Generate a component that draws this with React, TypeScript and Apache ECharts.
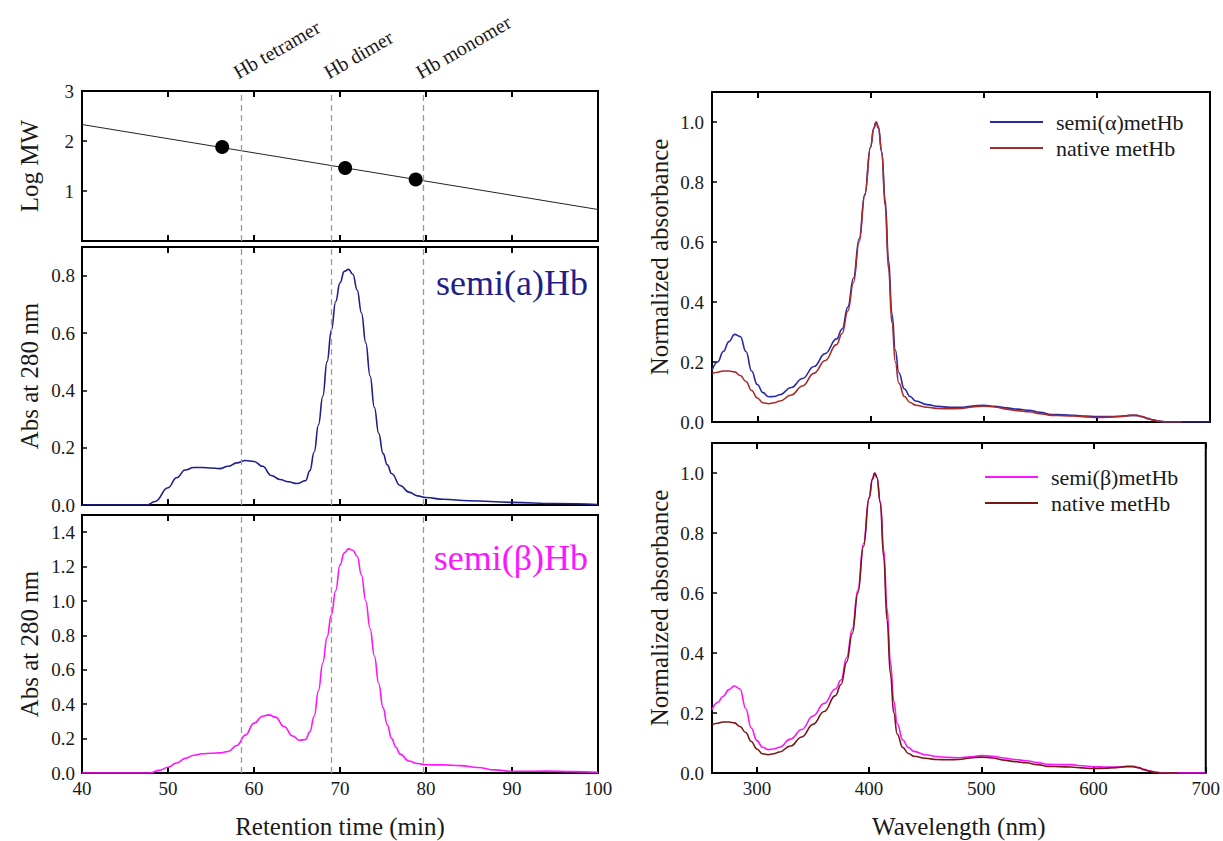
import React, { useEffect, useRef } from "react";
import * as echarts from "echarts";

const SERIF = "'Liberation Serif', 'Times New Roman', Times, serif";
const INK = "#1a1a1a";

// ---- Column calibration: log MW vs retention time ----
const standardTimes = [56.3, 70.6, 78.8];
const standardLogMW = [1.88, 1.46, 1.23];
const fitTimes = [40, 100];
const fitLogMW = [2.33, 0.63];
const speciesNames = ["Hb tetramer", "Hb dimer", "Hb monomer"];
const speciesTimes = [58.5, 69.0, 79.7];

// ---- Size-exclusion chromatograms (Abs at 280 nm) ----
const alphaTimes = [
  40, 45, 47.5, 48.5, 50, 51, 52, 53, 54, 55, 56, 57, 58, 59, 60, 61, 62, 63, 64, 65, 66,
  66.5, 67, 67.5, 68, 68.5, 69, 69.5, 70, 70.5, 71, 71.5, 72, 72.5, 73, 73.5, 74, 74.5, 75,
  75.5, 76, 77, 78, 79, 80, 82, 85, 90, 95, 100,
];
const alphaAbs = [
  0, 0, 0, 0.012, 0.06, 0.095, 0.122, 0.131, 0.131, 0.129, 0.127, 0.135, 0.147, 0.155, 0.152,
  0.135, 0.103, 0.089, 0.081, 0.075, 0.085, 0.12, 0.185, 0.28, 0.38, 0.5, 0.61, 0.71, 0.775,
  0.815, 0.822, 0.805, 0.75, 0.67, 0.565, 0.45, 0.34, 0.25, 0.18, 0.14, 0.11, 0.068, 0.045,
  0.032, 0.026, 0.02, 0.015, 0.009, 0.005, 0.002,
];
const betaTimes = [
  40, 45, 47.8, 49, 50, 51, 52, 53, 54, 55, 56, 57, 58, 59, 60, 61, 61.7, 62.5, 63.5, 64.5,
  65.3, 66, 66.5, 67, 67.5, 68, 68.5, 69, 69.5, 70, 70.5, 71, 71.5, 72, 72.5, 73, 73.5, 74,
  74.5, 75, 75.5, 76, 76.5, 77, 78, 79, 80, 82, 84, 86, 88, 90, 94, 97, 100,
];
const betaAbs = [
  0, 0, 0, 0.015, 0.033, 0.058, 0.085, 0.103, 0.112, 0.115, 0.117, 0.125, 0.16, 0.22, 0.29,
  0.33, 0.338, 0.325, 0.27, 0.215, 0.19, 0.195, 0.24, 0.33, 0.48, 0.64, 0.79, 0.92, 1.06,
  1.21, 1.28, 1.303, 1.295, 1.26, 1.15, 1.0, 0.84, 0.68, 0.52, 0.38, 0.28, 0.2, 0.15, 0.11,
  0.07, 0.055, 0.048, 0.047, 0.043, 0.032, 0.018, 0.01, 0.011, 0.008, 0.004,
];

// ---- UV-vis spectra (normalized absorbance) ----
const wavelengths = [
  260, 265, 270, 275, 280, 285, 290, 295, 300, 305, 310, 315, 320, 330, 340, 350, 360, 370,
  375, 380, 385, 390, 395, 400, 403, 405, 407, 410, 413, 416, 419, 422, 425, 430, 435, 440,
  450, 460, 470, 480, 490, 500, 510, 520, 530, 540, 550, 560, 570, 580, 590, 600, 610, 620,
  630, 635, 640, 645, 650, 655, 660, 665, 670, 675, 690, 700,
];
const semiAlphaMet = [
  0.172, 0.2, 0.235, 0.268, 0.292, 0.285, 0.235, 0.17, 0.125, 0.098, 0.084, 0.085, 0.091,
  0.115, 0.145, 0.185, 0.228, 0.277, 0.31, 0.383, 0.48, 0.61, 0.76, 0.915, 0.98, 1.0, 0.98,
  0.9, 0.74, 0.54, 0.36, 0.24, 0.165, 0.11, 0.085, 0.07, 0.058, 0.052, 0.049, 0.049, 0.053,
  0.056, 0.052, 0.047, 0.043, 0.039, 0.032, 0.025, 0.024, 0.022, 0.02, 0.018, 0.018, 0.019,
  0.022, 0.022, 0.018, 0.012, 0.007, 0.003, 0.001, 0, 0, 0, 0, 0,
];
const nativeMet = [
  0.161, 0.166, 0.17, 0.17, 0.167, 0.155, 0.135, 0.105, 0.08, 0.064, 0.061, 0.064, 0.07,
  0.09, 0.12, 0.162, 0.205, 0.258, 0.295, 0.37, 0.465, 0.6, 0.755, 0.915, 0.98, 1.0, 0.985,
  0.9, 0.72, 0.51, 0.33, 0.2, 0.13, 0.085, 0.065, 0.056, 0.049, 0.045, 0.044, 0.045, 0.05,
  0.053, 0.05, 0.043, 0.038, 0.034, 0.028, 0.022, 0.021, 0.02, 0.017, 0.015, 0.016, 0.018,
  0.022, 0.022, 0.018, 0.011, 0.006, 0.002, 0, 0, 0, 0, null, null,
];
const semiBetaMet = [
  0.211, 0.235, 0.256, 0.278, 0.29, 0.28, 0.215, 0.15, 0.108, 0.086, 0.078, 0.08, 0.086,
  0.113, 0.145, 0.19, 0.232, 0.28, 0.31, 0.385, 0.48, 0.61, 0.765, 0.92, 0.98, 1.0, 0.985,
  0.905, 0.745, 0.55, 0.37, 0.24, 0.165, 0.11, 0.085, 0.072, 0.061, 0.055, 0.052, 0.051,
  0.054, 0.058, 0.056, 0.05, 0.045, 0.041, 0.035, 0.029, 0.028, 0.028, 0.024, 0.021, 0.02,
  0.02, 0.021, 0.021, 0.018, 0.012, 0.007, 0.003, 0.001, 0, 0, 0, 0, 0,
];

const COLORS = {
  alphaHb: "#1f1f8c",
  alphaMet: "#2a2aa8",
  betaHb: "#ff14ff",
  nativeTop: "#a82a2a",
  nativeBottom: "#7a1717",
  dash: "#9a9a9a",
};

const zip = (xs: number[], ys: (number | null)[]) => xs.map((x, i) => [x, ys[i]]);

// panel rectangles in page pixels
const GRIDS = [
  { left: 82, top: 91, width: 516, height: 150 },
  { left: 82, top: 247, width: 516, height: 258 },
  { left: 82, top: 515, width: 516, height: 258 },
  { left: 712, top: 92, width: 498, height: 330 },
  { left: 712, top: 443, width: 498, height: 330 },
];

const tickLabel = { fontFamily: SERIF, fontSize: 19, color: INK };
const titleText = { fontFamily: SERIF, fontSize: 25, color: INK };

const stepFormatter = (step: number) => (v: number) =>
  Math.abs(v / step - Math.round(v / step)) < 1e-6 ? v.toFixed(1) : "";

function xAxisPair(gridIndex: number, min: number, max: number, showLabels: boolean, name: string) {
  const wide = max - min > 100;
  const step = wide ? 100 : 10;
  const common: any = {
    type: "value",
    gridIndex,
    min,
    max,
    axisLine: { show: false },
    splitLine: { show: false },
    axisTick: { show: true, inside: true, length: 6, lineStyle: { color: "#000", width: 2 } },
  };
  if (wide) {
    common.minInterval = step;
    common.maxInterval = step;
  } else {
    common.interval = step;
  }
  return [
    {
      ...common,
      position: "bottom",
      name: showLabels ? name : "",
      nameLocation: "middle",
      nameGap: 41,
      nameTextStyle: titleText,
      axisLabel: {
        show: showLabels,
        margin: 6,
        ...tickLabel,
        formatter: (v: number) => (v % step === 0 ? String(v) : ""),
      },
    },
    { ...common, position: "top", axisLabel: { show: false } },
  ];
}

function yAxis(gridIndex: number, max: number, interval: number, name: string, margin: number, fmt: any) {
  return {
    type: "value",
    gridIndex,
    min: 0,
    max,
    interval,
    name,
    nameLocation: "middle",
    nameGap: 40,
    nameTextStyle: titleText,
    axisLine: { show: false },
    splitLine: { show: false },
    axisTick: { show: true, inside: true, length: 5, lineStyle: { color: "#000", width: 1.5 } },
    axisLabel: { margin, ...tickLabel, formatter: fmt },
  };
}

const dashedMarkers = {
  silent: true,
  symbol: ["none", "none"],
  label: { show: false },
  lineStyle: { color: COLORS.dash, type: [6, 4], width: 1.3 },
  data: speciesTimes.map((t) => ({ xAxis: t })),
};

export default function App() {
  const ref = useRef<HTMLDivElement>(null);

  useEffect(() => {
    if (!ref.current) return;
    const chart = echarts.init(ref.current, undefined, { renderer: "svg" });

    const xAxes = [
      ...xAxisPair(0, 40, 100, false, ""),
      ...xAxisPair(1, 40, 100, false, ""),
      ...xAxisPair(2, 40, 100, true, "Retention time (min)"),
      ...xAxisPair(3, 260, 700, false, ""),
      ...xAxisPair(4, 260, 700, true, "Wavelength (nm)"),
    ];

    const yAxes = [
      yAxis(0, 3, 1, "Log MW", 8, (v: number) => (v === 0 ? "" : String(v))),
      yAxis(1, 0.9, 0.2, "Abs at 280 nm", 7, stepFormatter(0.2)),
      yAxis(2, 1.5, 0.2, "Abs at 280 nm", 7, stepFormatter(0.2)),
      yAxis(3, 1.1, 0.2, "Normalized absorbance", 8, stepFormatter(0.2)),
      yAxis(4, 1.1, 0.2, "Normalized absorbance", 8, stepFormatter(0.2)),
    ];

    const lineBase = { type: "line", symbol: "none", smooth: 0.45, smoothMonotone: "x", z: 3 };

    const legendBase = {
      orient: "vertical",
      padding: 0,
      icon: "rect",
      itemWidth: 53,
      itemHeight: 2,
      itemGap: 4,
      selectedMode: false,
      textStyle: { fontFamily: SERIF, fontSize: 22, color: INK, padding: [0, 0, 0, 8] },
    };

    chart.setOption({
      animation: false,
      backgroundColor: "#fff",
      grid: GRIDS.map((g) => ({
        ...g,
        show: true,
        borderColor: "#000",
        borderWidth: 2,
        backgroundColor: "transparent",
      })),
      xAxis: xAxes,
      yAxis: yAxes,
      legend: [
        {
          ...legendBase,
          left: 990,
          top: 111,
          data: [
            { name: "semi(α)metHb", itemStyle: { color: COLORS.alphaMet } },
            { name: "native metHb", itemStyle: { color: COLORS.nativeTop } },
          ],
        },
        {
          ...legendBase,
          left: 985,
          top: 466,
          formatter: (n: string) => n.trim(),
          data: [
            { name: "semi(β)metHb", itemStyle: { color: COLORS.betaHb } },
            { name: "native metHb ", itemStyle: { color: COLORS.nativeBottom } },
          ],
        },
      ],
      series: [
        {
          type: "line",
          name: "fit",
          xAxisIndex: 0,
          yAxisIndex: 0,
          symbol: "none",
          data: zip(fitTimes, fitLogMW),
          lineStyle: { color: "#222", width: 1 },
          markLine: dashedMarkers,
        },
        {
          type: "scatter",
          name: "standards",
          xAxisIndex: 0,
          yAxisIndex: 0,
          symbolSize: 14,
          itemStyle: { color: "#000", opacity: 1 },
          data: zip(standardTimes, standardLogMW),
          z: 4,
        },
        {
          ...lineBase,
          name: "semi(a)Hb",
          xAxisIndex: 2,
          yAxisIndex: 1,
          data: zip(alphaTimes, alphaAbs),
          lineStyle: { color: COLORS.alphaHb, width: 1.6 },
          markLine: dashedMarkers,
        },
        {
          ...lineBase,
          name: "semi(β)Hb",
          xAxisIndex: 4,
          yAxisIndex: 2,
          data: zip(betaTimes, betaAbs),
          lineStyle: { color: COLORS.betaHb, width: 1.6 },
          markLine: dashedMarkers,
        },
        {
          ...lineBase,
          name: "semi(α)metHb",
          xAxisIndex: 6,
          yAxisIndex: 3,
          data: zip(wavelengths, semiAlphaMet),
          itemStyle: { color: COLORS.alphaMet },
          lineStyle: { color: COLORS.alphaMet, width: 1.6 },
        },
        {
          ...lineBase,
          name: "native metHb",
          xAxisIndex: 6,
          yAxisIndex: 3,
          data: zip(wavelengths, nativeMet),
          itemStyle: { color: COLORS.nativeTop },
          lineStyle: { color: COLORS.nativeTop, width: 1.6 },
        },
        {
          ...lineBase,
          name: "semi(β)metHb",
          xAxisIndex: 8,
          yAxisIndex: 4,
          data: zip(wavelengths, semiBetaMet),
          itemStyle: { color: COLORS.betaHb },
          lineStyle: { color: COLORS.betaHb, width: 1.6 },
        },
        {
          ...lineBase,
          name: "native metHb ",
          xAxisIndex: 8,
          yAxisIndex: 4,
          data: zip(wavelengths, nativeMet),
          itemStyle: { color: COLORS.nativeBottom },
          lineStyle: { color: COLORS.nativeBottom, width: 1.6 },
        },
      ],
    });

    // rotated species labels above the calibration panel, and panel captions
    const graphics: any[] = speciesNames.map((name, i) => {
      const [px, py] = chart.convertToPixel({ gridIndex: 0 }, [speciesTimes[i], 3]) as number[];
      return {
        type: "text",
        x: px - 1,
        y: py - 9,
        rotation: Math.PI / 6,
        style: {
          text: name,
          font: `20px ${SERIF}`,
          fill: INK,
          align: "left",
          verticalAlign: "bottom",
          textAlign: "left",
          textVerticalAlign: "bottom",
        },
      };
    });
    const captions = [
      { text: "semi(a)Hb", grid: GRIDS[1], color: COLORS.alphaHb, dy: 54 },
      { text: "semi(β)Hb", grid: GRIDS[2], color: COLORS.betaHb, dy: 61 },
    ];
    captions.forEach((c) => {
      graphics.push({
        type: "text",
        x: c.grid.left + c.grid.width - 10,
        y: c.grid.top + c.dy,
        style: {
          text: c.text,
          font: `36px ${SERIF}`,
          fill: c.color,
          align: "right",
          verticalAlign: "bottom",
          textAlign: "right",
          textVerticalAlign: "bottom",
        },
      });
    });
    chart.setOption({ graphic: graphics });

    return () => chart.dispose();
  }, []);

  return (
    <div
      ref={ref}
      style={{ position: "absolute", left: 0, top: 0, width: 1223, height: 841, background: "#fff" }}
    />
  );
}
